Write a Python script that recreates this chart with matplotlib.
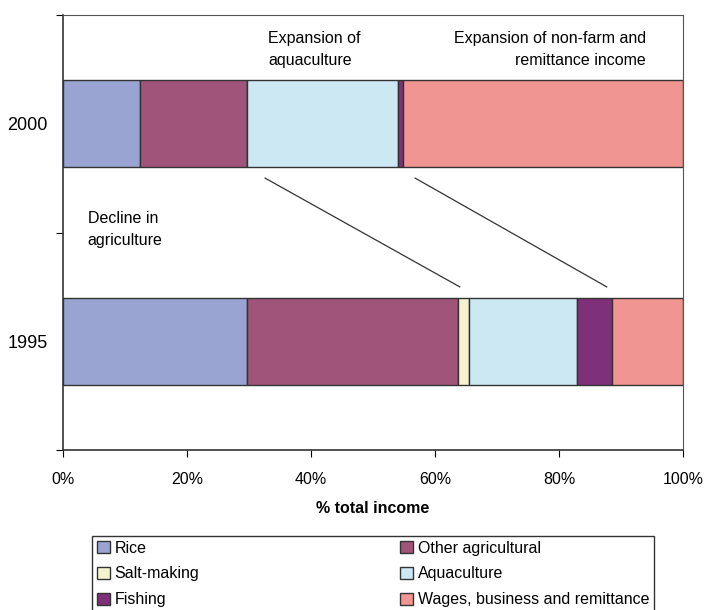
import matplotlib
matplotlib.use('Agg')
import matplotlib.pyplot as plt
from matplotlib.patches import Patch

plt.rcParams['font.family'] = ['Liberation Sans', 'DejaVu Sans']

years = ['1995', '2000']
sources = ['Rice', 'Other agricultural', 'Salt-making', 'Aquaculture',
           'Fishing', 'Wages, business and remittance']
colours = ['#99a4d2', '#a0547a', '#f5f2d0', '#cce8f3', '#7e3079', '#f09591']

# % of total income, per year (1995, 2000)
rice = [29.7, 12.4]
other_agri = [34.0, 17.3]
salt = [1.8, 0.0]
aquaculture = [17.4, 24.3]
fishing = [5.6, 0.8]
wages = [11.5, 45.2]

shares = [rice, other_agri, salt, aquaculture, fishing, wages]

fig = plt.figure(figsize=(7.06, 6.10), dpi=100)
ax = fig.add_axes([63/706, 1-450/610, 620/706, 435/610])

left = [0.0, 0.0]
for name, vals, c in zip(sources, shares, colours):
    ax.barh([0, 1], vals, left=left, height=0.4, color=c,
            edgecolor='#333333', linewidth=1.0, label=name)
    left = [l + v for l, v in zip(left, vals)]

ax.set_xlim(0, 100)
ax.set_ylim(-0.5, 1.5)
ax.set_xticks(range(0, 101, 20))
ax.set_xticklabels([f'{t}%' for t in range(0, 101, 20)], fontsize=11.5)
ax.set_yticks([-0.5, 0.5, 1.5])
ax.set_yticklabels([])
ax.set_yticks([0, 1], minor=True)
ax.set_yticklabels(years, minor=True, fontsize=13)
ax.tick_params(axis='y', which='minor', length=0, pad=11)
ax.tick_params(axis='y', which='major', length=5, direction='out')
ax.tick_params(axis='x', length=5, direction='out', pad=11)
for s in ['top', 'right']:
    ax.spines[s].set_color('#555555')
for s in ['left', 'bottom']:
    ax.spines[s].set_color('#333333')
    ax.spines[s].set_linewidth(1.2)

ax.set_xlabel('% total income', fontsize=11.5, fontweight='bold', labelpad=10)

# annotations
ax.text(33.1, 1.34, 'Expansion of\naquaculture', fontsize=11.5,
        va='center', ha='left', linespacing=1.55)
ax.text(94.0, 1.34, 'Expansion of non-farm and\nremittance income', fontsize=11.5,
        va='center', ha='right', linespacing=1.55, multialignment='right')
ax.text(4.0, 0.515, 'Decline in\nagriculture', fontsize=11.5,
        va='center', ha='left', linespacing=1.55)
ax.plot([32.6, 64.0], [0.75, 0.25], color='#333333', lw=0.9)
ax.plot([56.8, 87.7], [0.75, 0.25], color='#333333', lw=0.9)

order = [0, 2, 4, 1, 3, 5]
handles = [Patch(facecolor=colours[i], edgecolor='#333333', label=sources[i]) for i in order]
leg = fig.legend(handles=handles, ncol=2, loc='upper left',
                 bbox_to_anchor=(92/706, 0, 562/706, 1-536/610), mode='expand',
                 fontsize=11.5, frameon=True, fancybox=False, edgecolor='black',
                 handlelength=0.8, handleheight=0.8, handletextpad=0.3,
                 labelspacing=0.67, borderaxespad=0, borderpad=0.3)
leg.get_frame().set_linewidth(1.0)

fig.savefig('out.png', dpi=100)
